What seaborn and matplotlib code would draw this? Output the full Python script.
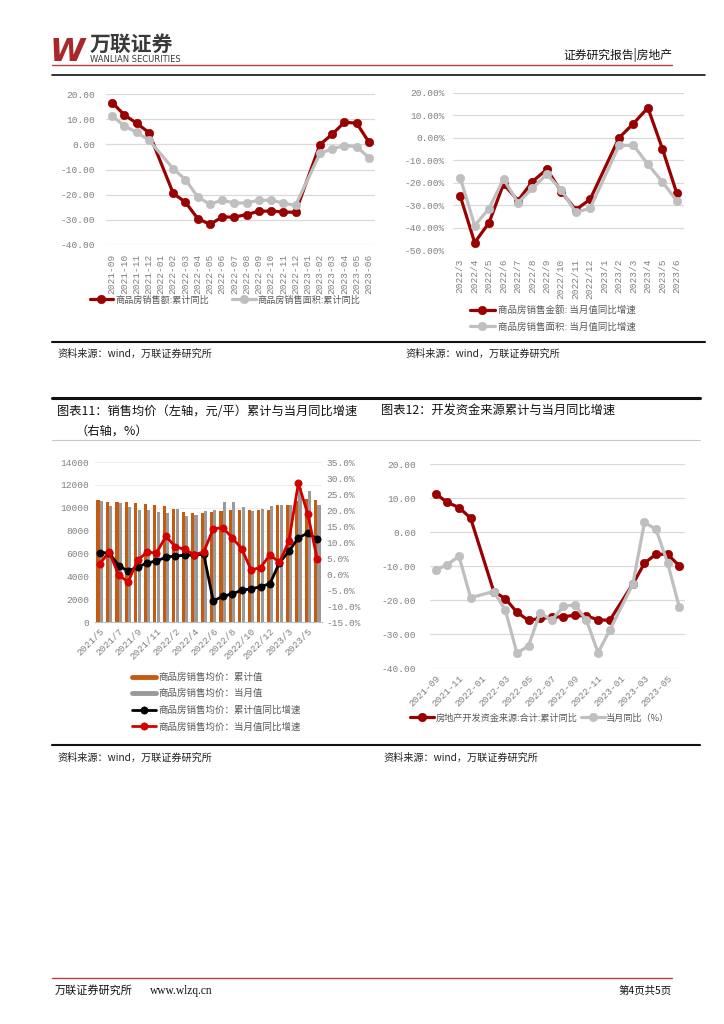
import numpy as np
import pandas as pd
import matplotlib
matplotlib.use('Agg')
import matplotlib.pyplot as plt
import seaborn as sns
from matplotlib.lines import Line2D

nan = np.nan

# 图1: 商品房销售额/面积 累计同比
months1 = ['2021-09', '2021-10', '2021-11', '2021-12', '2022-01', '2022-02', '2022-03',
           '2022-04', '2022-05', '2022-06', '2022-07', '2022-08', '2022-09', '2022-10',
           '2022-11', '2022-12', '2023-01', '2023-02', '2023-03', '2023-04', '2023-05', '2023-06']
sales_amt_cum = [16.6, 11.7, 8.4, 4.7, nan, -19.5, -23.0, -29.5, -31.8, -28.9, -28.9,
                 -27.9, -26.6, -26.5, -26.9, -27.0, nan, -0.1, 4.0, 8.8, 8.4, 0.9]
sales_area_cum = [11.3, 7.3, 4.8, 1.7, nan, -9.7, -14.0, -20.9, -23.8, -22.2, -23.3,
                  -23.3, -22.2, -22.2, -23.3, -24.3, nan, -3.6, -1.8, -0.5, -0.9, -5.3]

# 图2: 当月值同比增速
months2 = ['2022/3', '2022/4', '2022/5', '2022/6', '2022/7', '2022/8', '2022/9', '2022/10',
           '2022/11', '2022/12', '2023/1', '2023/2', '2023/3', '2023/4', '2023/5', '2023/6']
sales_amt_mon = [-25.9, -46.7, -37.8, -20.5, -28.0, -19.5, -14.0, -24.0, -32.1, -27.4,
                 nan, 0.0, 6.4, 13.4, -4.8, -24.7]
sales_area_mon = [-17.7, -39.1, -31.5, -18.3, -28.9, -22.5, -16.2, -23.2, -33.2, -31.4,
                  nan, -3.4, -3.3, -11.8, -19.6, -28.1]

# 图表11: 销售均价
months3 = ['2021/5', '2021/6', '2021/7', '2021/8', '2021/9', '2021/10', '2021/11', '2021/12',
           '2022/2', '2022/3', '2022/4', '2022/5', '2022/6', '2022/7', '2022/8', '2022/9',
           '2022/10', '2022/11', '2022/12', '2023/2', '2023/3', '2023/4', '2023/5', '2023/6']
price_cum = [10670, 10520, 10520, 10500, 10400, 10320, 10230, 10180, 9880, 9620, 9530, 9560,
             9620, 9710, 9820, 9820, 9820, 9820, 9820, 10230, 10230, 10550, 10760, 10640]
price_mon = [10580, 10110, 10400, 10080, 9820, 9820, 9650, 9560, 9880, 9300, 9390, 9710,
             9820, 10530, 10500, 10060, 9740, 9850, 10110, 10230, 10230, 11700, 11460, 10230]
price_cum_yoy = [6.7, 6.6, 2.6, 0.9, 2.2, 3.4, 4.1, 5.2, 5.7, 5.8, 6.0, 6.1, -8.4, -7.0,
                 -6.2, -5.1, -4.6, -4.0, -3.0, 3.5, 7.1, 11.3, 12.8, 10.8]
price_mon_yoy = [3.2, 6.9, -0.3, -2.5, 4.3, 6.8, 6.6, 11.8, 8.5, 7.7, 6.0, 6.9, 14.1, 14.5,
                 11.4, 7.9, 1.3, 2.0, 6.0, 3.6, 10.3, 28.4, 18.7, 4.6]

# 图表12: 开发资金来源
months4 = months1
fund_cum = [11.2, 8.7, 7.2, 4.1, nan, -17.5, -19.6, -23.6, -26.0, -25.4, -25.1, -24.9,
            -24.5, -24.7, -25.8, -26.0, nan, -15.3, -9.2, -6.5, -6.6, -9.9]
fund_mon = [-11.2, -9.6, -7.1, -19.3, nan, -17.5, -23.0, -35.6, -33.5, -23.7, -26.0, -21.9,
            -21.4, -26.0, -35.5, -28.9, nan, -15.3, 2.8, 0.8, -9.1, -22.0]

sns.set_style('white')
plt.rcParams['font.family'] = ['Noto Sans CJK SC', 'DejaVu Sans']
plt.rcParams['axes.unicode_minus'] = False

W, H = 724, 1024
NUM_FONT = 'Liberation Mono'
TICK_C = '#808080'
LEG_C = '#595959'
DRED = '#990000'
LGREY = '#BFBFBF'
ORANGE = '#C55A11'
BGREY = '#9A9A9A'
BRED = '#D40000'
TSIZE = 6.8


def rect(x0, y0, x1, y1):
    return [x0 / W, 1 - y1 / H, (x1 - x0) / W, (y1 - y0) / H]


def fx(x):
    return x / W


def fy(y):
    return 1 - y / H


def draw_line(ax, x, y, color, ms=6.0, lw=2.3):
    d = pd.DataFrame({'x': x, 'y': y}).dropna()
    sns.lineplot(data=d, x='x', y='y', ax=ax, color=color, marker='o', markersize=ms,
                 markeredgecolor=color, markeredgewidth=0.5, linewidth=lw, legend=False)
    return ax.lines[-1]


def style_axis(ax, pad_y=6, pad_x=3):
    sns.despine(ax=ax, left=True, bottom=True)
    ax.tick_params(length=0, labelsize=TSIZE, labelcolor=TICK_C)
    ax.tick_params(axis='y', pad=pad_y)
    ax.tick_params(axis='x', pad=pad_x)
    ax.yaxis.grid(True, color='#D9D9D9', lw=0.9)
    ax.xaxis.grid(False)
    ax.set_axisbelow(True)
    ax.set_xlabel('')
    ax.set_ylabel('')


def num_font(ax):
    for lbl in ax.get_xticklabels() + ax.get_yticklabels():
        lbl.set_fontfamily(NUM_FONT)


fig = plt.figure(figsize=(W / 100, H / 100), dpi=100)

# ---- header ----
fig.text(fx(50), fy(61), 'W', fontsize=23, fontweight='bold', style='italic',
         color='#A8282B', family='DejaVu Sans', va='baseline')
fig.text(fx(90), fy(50.5), '万联证券', fontsize=15, fontweight='bold', color='#3A3A3A',
         va='baseline')
fig.text(fx(90), fy(62), 'WANLIAN SECURITIES', fontsize=6.0, color='#3A3A3A', va='baseline',
         family='DejaVu Sans')
fig.text(fx(672), fy(59), '证券研究报告|房地产', fontsize=8.5, color='#111111', ha='right',
         va='baseline')
fig.add_artist(Line2D([fx(52), fx(672)], [fy(64.5), fy(64.5)], color='#B5403F', lw=1))
fig.add_artist(Line2D([fx(52), fx(705)], [fy(75), fy(75)], color='#111111', lw=1.2))

# ---- chart 1 ----
ax1 = fig.add_axes(rect(106, 94, 375, 245))
l_a = draw_line(ax1, range(len(months1)), sales_amt_cum, DRED)
l_b = draw_line(ax1, range(len(months1)), sales_area_cum, LGREY)
ax1.set_xlim(-0.5, len(months1) - 0.5)
ax1.set_ylim(-40, 20)
ax1.set_yticks(range(-40, 21, 10))
ax1.set_yticklabels([f'{v:.2f}' for v in range(-40, 21, 10)])
ax1.set_xticks(range(len(months1)))
ax1.set_xticklabels(months1, rotation=90)
style_axis(ax1, pad_y=8, pad_x=6)
num_font(ax1)
ax1.legend([l_a, l_b], ['商品房销售额:累计同比', '商品房销售面积:累计同比'], ncol=2,
           loc='center', bbox_to_anchor=(fx(225), fy(300)), bbox_transform=fig.transFigure,
           frameon=False, fontsize=6.6, labelcolor=LEG_C, handlelength=2.6,
           handletextpad=0.2, columnspacing=2.5)

# ---- chart 2 ----
ax2 = fig.add_axes(rect(453, 93, 684, 250))
l_c = draw_line(ax2, range(len(months2)), sales_amt_mon, DRED)
l_d = draw_line(ax2, range(len(months2)), sales_area_mon, LGREY)
ax2.set_xlim(-0.5, len(months2) - 0.5)
ax2.set_ylim(-50, 20)
ax2.set_yticks(range(-50, 21, 10))
ax2.set_yticklabels([f'{v:.2f}%' for v in range(-50, 21, 10)])
ax2.set_xticks(range(len(months2)))
ax2.set_xticklabels(months2, rotation=90)
style_axis(ax2, pad_y=6, pad_x=6)
num_font(ax2)
ax2.legend([l_c, l_d], ['商品房销售金额: 当月值同比增速', '商品房销售面积: 当月值同比增速'],
           loc='upper left', bbox_to_anchor=(fx(461), fy(297)), bbox_transform=fig.transFigure,
           frameon=False, fontsize=6.8, labelcolor=LEG_C, handlelength=2.7,
           handletextpad=0.3, labelspacing=0.75)

# ---- frame lines / sources ----
fig.add_artist(Line2D([fx(52), fx(705)], [fy(342), fy(342)], color='#111111', lw=1.5))
fig.text(fx(57), fy(357), '资料来源：wind，万联证券研究所', fontsize=7.3, color='#222222',
         va='baseline')
fig.text(fx(405), fy(357), '资料来源：wind，万联证券研究所', fontsize=7.3, color='#222222',
         va='baseline')
fig.add_artist(Line2D([fx(52), fx(700)], [fy(398), fy(398)], color='#111111', lw=2.2))
fig.text(fx(57), fy(415), '图表11：销售均价（左轴，元/平）累计与当月同比增速', fontsize=8.8,
         color='#111111', va='baseline')
fig.text(fx(75), fy(435), '（右轴，%）', fontsize=8.8, color='#111111', va='baseline')
fig.text(fx(381), fy(415), '图表12：开发资金来源累计与当月同比增速', fontsize=8.8,
         color='#111111', va='baseline')
fig.add_artist(Line2D([fx(52), fx(700)], [fy(440), fy(440)], color='#C8C8C8', lw=0.8))

# ---- chart 3 ----
ax3 = fig.add_axes(rect(95, 462, 322, 622))
n3 = len(months3)
df3 = pd.DataFrame({
    'x': list(range(n3)) * 2,
    'v': price_cum + price_mon,
    's': ['商品房销售均价：累计值'] * n3 + ['商品房销售均价：当月值'] * n3,
})
sns.barplot(data=df3, x='x', y='v', hue='s', native_scale=True, ax=ax3,
            palette=[ORANGE, BGREY], saturation=1, width=0.72, gap=0.08, legend=False,
            linewidth=0)
ax3.set_xlim(-0.5, n3 - 0.5)
ax3.set_ylim(0, 14000)
ax3.set_yticks(range(0, 14001, 2000))
ax3.set_yticklabels([str(v) for v in range(0, 14001, 2000)])
ax3.set_xticks(range(0, n3, 2))
ax3.set_xticklabels(months3[::2], rotation=45, ha='right', rotation_mode='anchor')
style_axis(ax3, pad_y=4, pad_x=3)
ax3.yaxis.grid(True, color='#EEEEEE', lw=0.8)
ax3.spines['bottom'].set_visible(True)
ax3.spines['bottom'].set_color('#BFBFBF')
num_font(ax3)

ax3b = ax3.twinx()
l_e = draw_line(ax3b, range(n3), price_cum_yoy, '#000000', ms=5.2, lw=2.0)
l_f = draw_line(ax3b, range(n3), price_mon_yoy, BRED, ms=5.2, lw=2.0)
ax3b.set_xlim(-0.5, n3 - 0.5)
ax3b.set_ylim(-15, 35)
ax3b.set_yticks(range(-15, 36, 5))
ax3b.set_yticklabels([f'{v:.1f}%' for v in range(-15, 36, 5)])
sns.despine(ax=ax3b, left=True, bottom=True, right=True)
ax3b.tick_params(length=0, labelsize=TSIZE, labelcolor=TICK_C, pad=3)
ax3b.set_ylabel('')
ax3b.grid(False)
num_font(ax3b)

h3 = [Line2D([], [], color=ORANGE, lw=3.5), Line2D([], [], color=BGREY, lw=3.5), l_e, l_f]
ax3b.legend(h3, ['商品房销售均价：累计值', '商品房销售均价：当月值',
                 '商品房销售均价：累计值同比增速', '商品房销售均价：当月值同比增速'],
            loc='upper left', bbox_to_anchor=(fx(123), fy(664)), bbox_transform=fig.transFigure,
            frameon=False, fontsize=6.8, labelcolor=LEG_C, handlelength=2.6,
            handletextpad=0.2, labelspacing=0.75)

# ---- chart 4 ----
ax4 = fig.add_axes(rect(430, 464, 685, 668))
l_g = draw_line(ax4, range(len(months4)), fund_cum, DRED)
l_h = draw_line(ax4, range(len(months4)), fund_mon, LGREY)
ax4.set_xlim(-0.5, len(months4) - 0.5)
ax4.set_ylim(-40, 20)
ax4.set_yticks(range(-40, 21, 10))
ax4.set_yticklabels([f'{v:.2f}' for v in range(-40, 21, 10)])
ax4.set_xticks(range(0, len(months4), 2))
ax4.set_xticklabels(months4[::2], rotation=45, ha='right', rotation_mode='anchor')
style_axis(ax4, pad_y=10, pad_x=4)
num_font(ax4)
ax4.legend([l_g, l_h], ['房地产开发资金来源:合计:累计同比', '当月同比（%）'], ncol=2,
           loc='center', bbox_to_anchor=(fx(540), fy(718)), bbox_transform=fig.transFigure,
           frameon=False, fontsize=6.6, labelcolor=LEG_C, handlelength=2.6,
           handletextpad=0.2, columnspacing=0.3)

fig.add_artist(Line2D([fx(52), fx(700)], [fy(745), fy(745)], color='#111111', lw=1.5))
fig.text(fx(57), fy(761), '资料来源：wind，万联证券研究所', fontsize=7.3, color='#222222',
         va='baseline')
fig.text(fx(383), fy(761), '资料来源：wind，万联证券研究所', fontsize=7.3, color='#222222',
         va='baseline')

# ---- footer ----
fig.add_artist(Line2D([fx(52), fx(672)], [fy(978), fy(978)], color='#B5403F', lw=1))
fig.text(fx(55), fy(994), '万联证券研究所', fontsize=8, color='#111111', va='baseline')
fig.text(fx(150), fy(994), 'www.wlzq.cn', fontsize=8.3, color='#111111', va='baseline',
         family='Liberation Serif')
fig.text(fx(672), fy(994), '第4页共5页', fontsize=7.5, color='#111111', ha='right',
         va='baseline')

fig.savefig('out.png', dpi=100)
